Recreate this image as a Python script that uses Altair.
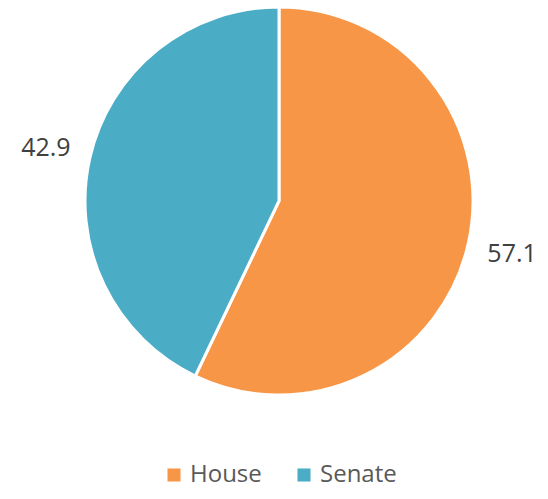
import altair as alt
import pandas as pd

categories = ["House", "Senate"]
values = [57.1, 42.9]
labels = ["57.1", "42.9"]
colors = ["#F79646", "#4BACC6"]

df = pd.DataFrame({"cat": categories, "val": values, "lab": labels, "ord": [0, 1]})

base = alt.Chart(df).encode(
    theta=alt.Theta("val:Q", stack=True),
    order=alt.Order("ord:Q"),
    x=alt.value(271),
    y=alt.value(193),
)

pie = base.mark_arc(outerRadius=194, stroke="white", strokeWidth=3).encode(
    color=alt.Color(
        "cat:N",
        scale=alt.Scale(domain=categories, range=colors),
        legend=alt.Legend(
            title=None,
            orient="none",
            legendX=154,
            legendY=455,
            direction="horizontal",
            symbolType="square",
            symbolSize=170,
            labelFontSize=24,
            labelFont="Open Sans",
            labelColor="#595959",
            labelLimit=200,
            columnPadding=30,
            symbolStrokeWidth=0,
            padding=0,
        ),
    )
)

text = base.mark_text(radius=239, fontSize=25, font="Open Sans", color="#404040").encode(
    text="lab:N"
)

chart = (pie + text).properties(
    width=532,
    height=483,
    padding=0,
    autosize=alt.AutoSizeParams(type="none"),
).configure_view(stroke=None)

chart.save("out.html", embed_options={"renderer": "svg", "actions": False})
